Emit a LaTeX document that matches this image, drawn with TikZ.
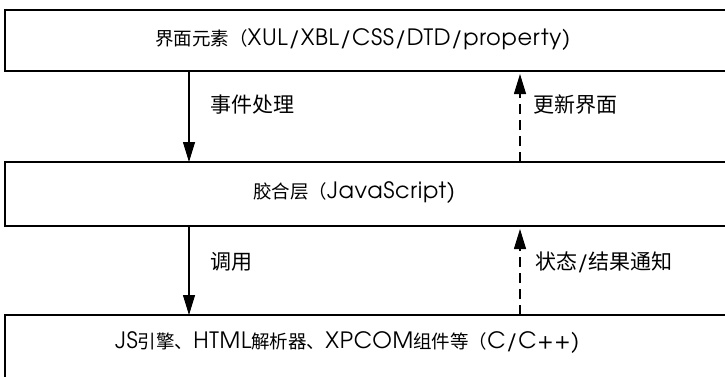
\documentclass[tikz,border=0pt]{standalone}
\usepackage{fontspec}
\setmainfont{TeX Gyre Adventor}[LetterSpace=3]
\newfontfamily\cjk{Noto Sans CJK SC}
\newcommand\zh[1]{{\fontsize{18.5}{20}\cjk #1}}
\newcommand\zhl[1]{{\fontsize{21}{22}\cjk #1}}
\usetikzlibrary{arrows.meta}
\begin{document}
\begin{tikzpicture}[x=1pt,y=-1pt,
  box/.style={draw,line width=1.4pt,rectangle,inner sep=0pt,outer sep=0pt},
  txt/.style={font=\fontsize{22.5}{24}\selectfont,inner sep=0pt,anchor=west},
  lbl/.style={font=\fontsize{22.5}{24}\selectfont,inner sep=0pt,anchor=west},
  flow/.style={line width=1.1pt,-{Triangle[length=20pt,width=12pt]}},
  back/.style={flow,dash pattern=on 10pt off 6pt,shorten >=3pt}]
\useasboundingbox (0,0) rectangle (725,376);
\clip (0,0) rectangle (725,376);
\node[box,minimum width=730pt,minimum height=61pt] (ui) at (370,40.5) {};
\node[box,minimum width=730pt,minimum height=64pt] (glue) at (370,194) {};
\node[box,minimum width=730pt,minimum height=75pt] (core) at (370,352.5) {};
\node[txt] (uitxt) at (155,40) {\zh{界面元素（}XUL/XBL/CSS/DTD/property)};
\node[txt] (gluetxt) at (253,193) {\zh{胶合层（}JavaScript)};
\node[txt] (coretxt) at (115,343) {JS\zh{引擎、}HTML\zh{解析器、}XPCOM\zh{组件等（}C/C++)};
\draw[flow] ([xshift=184pt]ui.south west) -- ([xshift=184pt]glue.north west);
\draw[back] ([xshift=515pt]glue.north west) -- ([xshift=515pt]ui.south west);
\draw[flow] ([xshift=184pt]glue.south west) -- ([xshift=184pt]core.north west);
\draw[back] ([xshift=515pt]core.north west) -- ([xshift=515pt]glue.south west);
\node[lbl] (l1) at (210,105) {\zhl{事件处理}};
\node[lbl] (l2) at (533,105) {\zhl{更新界面}};
\node[lbl] (l3) at (210,262) {\zhl{调用}};
\node[lbl] (l4) at (535,262) {\zhl{状态}/\zhl{结果通知}};
\end{tikzpicture}
\end{document}
